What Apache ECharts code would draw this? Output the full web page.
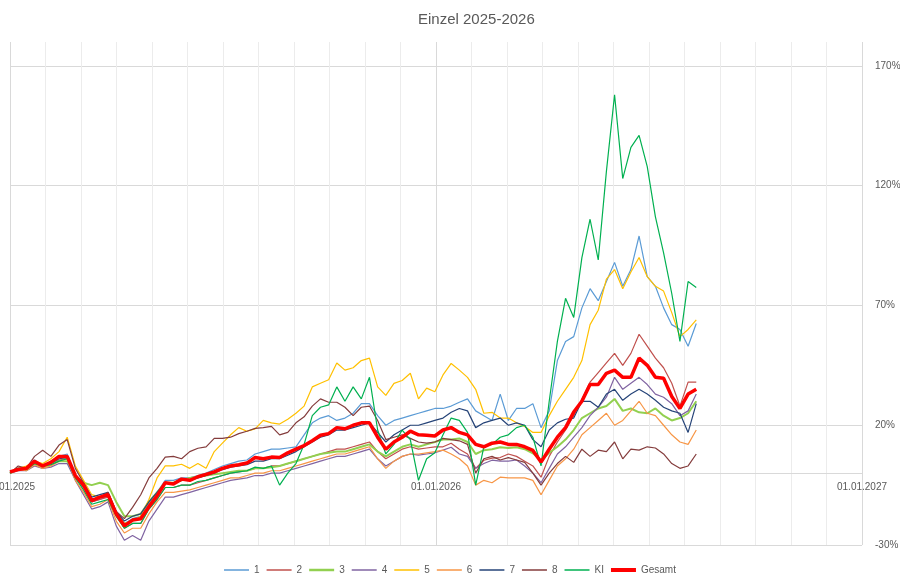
<!DOCTYPE html>
<html><head><meta charset="utf-8">
<script src="https://cdn.jsdelivr.net/npm/echarts@6/dist/echarts.min.js"></script>
<style>html,body{margin:0;padding:0;background:#fff}#c{width:900px;height:581px}</style>
</head><body><div id="c"></div>
<script>
const titleText = 'Einzel 2025-2026';
const seriesNames = ['1','2','3','4','5','6','7','8','KI','Gesamt'];
const seriesColors = ['#5B9BD5','#C0504D','#92D050','#8064A2','#FFC000','#F79646','#264478','#843C3C','#00B050','#FF0000'];
const yTicks = [-30, 20, 70, 120, 170];

const s1 = [0.5,2,2,5.5,3,5,7,8,-1,-5,
 -12,-11,-9.5,-16,-21,-19,-18,-13,-8,-3,
 -3,-2,-2,-1,0,1.5,3,4,5,5.5,
 8,9,10,10,10.5,11,16,21,23,24,
 22,23,25,29,29,24,20,22,23,24,
 25,26,27,27,28,29.6,31,26,24,22,
 33,22,27,27,29,19,26,47,55,57,
 69,77,72,80,88,78,85,99,82,78,
 69,62,60,53,62.5];
const s2 = [0,1.5,1.5,4,2.5,3.5,5.5,6,-2,-6,
 -12,-11,-10,-18,-23,-21,-21,-15,-11,-6,
 -6,-5,-5,-4,-3,-2,-1,0,0.5,1,
 2,2,3,3,4,5,6,7,8,9,
 10,10,11,12,13,9,6,8,10,11,
 10,10.5,11,11,12.5,10,8,2,5.4,6.3,
 6.5,8,7,5,3,-1.7,7,13,18,24,
 31,38,42,46,50,45,50,58,53,48,
 44,37.5,28,38,38];
const s3 = [0,1.5,1.5,4,2.5,3.5,5,5,-2,-4,
 -5,-4,-5,-12,-18,-18,-17,-12,-8,-4,
 -4,-3,-2,-1.5,-1,-0.5,0,0.5,1,1,
 2,2,2.5,3,4,5,6,7,8,8.5,
 9,9,10,11,12,9,7,9,11,12,
 11,12,13,14,14,14.5,13,8,9.6,10,
 10.8,10.5,10.8,10,8.3,5.4,8.5,11,14,18,
 23,25,27,28,31,26,27,25.4,25,27,
 24,22,23,25,30];
const s4 = [0,1,1,3,2,2.5,4,4,-3,-9,
 -15,-14,-12,-22,-28,-26,-28,-20,-15,-10,
 -10,-9,-8,-7,-6,-5,-4,-3,-2.5,-2,
 -1,-1,0,0,1,2,3,4,5,6,
 7,7,8,9,10,6,3,5,7,8,
 7.5,8,8.5,9.6,10.8,8,7,2,4,5.4,
 5,5,5.5,3,0,-4,2,8,11,15,
 19,24,27.5,31.7,40,35,37.5,40,37,33,
 31.7,29,24,26,33];
const s5 = [0,2,3,5,4,6,9,15,3,-3,
 -9,-10,-9,-17,-21,-20,-18,-11,-2,3,
 3,3.7,2,4,2,9,12.5,16,19,17.5,
 18.5,22,21,20.5,22.5,25,28,36,37.5,39,
 46,43,44,47,48,36,32.5,37.5,38.7,41.7,
 31,35.5,34,41,45.8,43,40,35,25,25.4,
 23,23,21,19.5,17,17,24,30,35,40,
 47,62,68,81,85,77,84,90,82,78,
 76,67,57,60,64];
const s6 = [0,1.5,1,3.5,2,3,5,6,-3,-8,
 -14,-13,-11,-20,-25,-23,-23,-17,-12,-8,
 -8,-7.5,-7,-6,-5,-4,-3,-2,-2,-1,
 0,0,1,1,2,3,4,5,6,7,
 8,8,9,10,11,6,2,5,7,8,
 8,8.5,9,9.6,8,6,3,-5,-3,-4,
 -1.7,-2,-2,-2,-3,-9,-3,3,6,10,
 16,19,22,25,20,22,26,30,25,24,
 20,16,13,12,18];
const s7 = [0.5,2,2,4.5,3,4,6,6.5,-1,-4,
 -10,-9,-8,-16,-20,-18,-17,-12,-8,-4,
 -4,-3,-3,-2,-1,0,1.5,2.5,3,3.5,
 5,5,6,6,7.5,9,11,13,15,16,
 18,18,19,20,21,17,13,16,18,20,
 20,21,22,23,25.4,27,26,19,21,22,
 23,20,21,20,14,11,18,21,22.5,23,
 30,30,27.5,33,35,30.4,33,35,33,30.4,
 27.5,26,25,17,29];
const s8 = [0,3,2,7,9.6,7,11.7,14,2,-4,
 -11,-10,-8,-16,-19,-14.3,-9,-2,2,6.7,
 7,6,9,10.4,11,14.5,14.5,15,16.5,17.5,
 18.7,19,19.5,16,17,21,23.5,28,31,29.6,
 29.6,27.5,24,27.5,28,22,14,15,16,14.5,
 13,12.5,13,14.5,14,13.5,12,0,6,7,
 5.5,6.5,5.5,4.5,0,-5,0,4,7,4.5,
 10,7,9.6,9,13,6,10,9.6,11,10.5,
 8,4,2,3,8];
const sKI = [0,2,1.5,4,3,3.5,5,6,-2,-7,
 -13,-12,-11,-18,-23,-21,-21,-15,-11,-6,
 -6,-5,-5,-3.5,-3,-2,-1,0,0.5,1,
 2.5,2,3,-5,0,4,12,24,27.5,28.5,
 36,30,36,31,40,18,8,12,18,14,
 -3,6,8.5,16,23,22,17,-5,11,12,
 15,16,19,20,15,3,30,55,73,65,
 90,106,89,126,158,123,136,141,128,107,
 92,75,55,80,77.5];
const sGesamt = [0.5,1.5,2,5,3,4.5,7,7,-1,-5,
 -11.5,-10,-9,-17,-22,-19.6,-19,-14,-9.5,-4,
 -4.5,-2.5,-3,-1.5,-0.5,0.5,2,3,3.5,4.2,
 6.5,6,6.7,6.5,8.5,10,11.5,13.5,15.8,16.5,
 19,18.5,20,21,21,15,10,13,15,17.5,
 16,15.8,15.5,18,19,17,16,12,11,12.5,
 13,12,12,11,9.5,4.6,10,15,19,25.5,
 30,37,37,41.7,43,40,40,48,45,40,
 39.6,32,27,33,35];

const allSeries = [s1,s2,s3,s4,s5,s6,s7,s8,sKI,sGesamt];
const DAY = 86400000;
const t0 = Date.UTC(2025,0,1);
const tEnd = Date.UTC(2027,0,1);
const dates = s1.map((_, i) => t0 + i * 7 * DAY);
const Y_MIN = -30, Y_MAX = 180;

function fmtDate(v){
  const d = new Date(v);
  const p = n => (n<10?'0':'')+n;
  return p(d.getUTCDate())+'.'+p(d.getUTCMonth()+1)+'.'+d.getUTCFullYear();
}

const GRID = {left:10, right:38, top:42, bottom:36};
const plotH = 581 - GRID.top - GRID.bottom;
const zeroOffset = -plotH * (0 - Y_MIN) / (Y_MAX - Y_MIN);

const FONT = 'Liberation Sans';
const chart = echarts.init(document.getElementById('c'));
chart.setOption({
  animation:false,
  backgroundColor:'#fff',
  textStyle:{fontFamily:FONT},
  title:{text:titleText, left:413, top:7, textStyle:{color:'#595959', fontSize:15, fontWeight:'normal', fontFamily:FONT}},
  grid:Object.assign({containLabel:false, outerBoundsMode:'none'}, GRID),
  legend:{bottom:1, left:'center', itemWidth:25, itemHeight:10, itemGap:7,
    textStyle:{color:'#595959', fontSize:10, fontFamily:FONT},
    data:seriesNames.map(n => ({name:n, icon: n==='Gesamt' ? 'path://M0,0H100V16H0Z' : (n==='3' ? 'path://M0,0H100V10H0Z' : 'path://M0,0H100V6H0Z')}))},
  xAxis:{type:'value', min:t0, max:tEnd, interval:365*DAY, position:'bottom', offset:zeroOffset,
    axisLine:{onZero:false, lineStyle:{color:'#d9d9d9', width:1}},
    axisTick:{show:false},
    axisLabel:{formatter:fmtDate, color:'#595959', fontSize:10, margin:9, showMinLabel:true, showMaxLabel:true},
    splitLine:{show:true, lineStyle:{color:'#d9d9d9', width:1}},
    minorTick:{show:false, splitNumber:12},
    minorSplitLine:{show:true, lineStyle:{color:'#ececec', width:1}}
  },
  yAxis:{type:'value', position:'right', min:Y_MIN, max:Y_MAX, interval:50,
    axisLine:{show:false}, axisTick:{show:false},
    axisLabel:{formatter:v => yTicks.indexOf(v) >= 0 ? v+'%' : '', color:'#595959', fontSize:10, margin:13, showMaxLabel:false},
    splitLine:{show:true, showMaxLine:false, lineStyle:{color:'#d9d9d9', width:1}}
  },
  series: seriesNames.map((name, idx) => ({
    name, type:'line', symbol:'none', showSymbol:false,
    color: seriesColors[idx],
    lineStyle:{width: name==='Gesamt' ? 3.5 : (name==='3' ? 2 : 1.2), color: seriesColors[idx]},
    emphasis:{disabled:true},
    z: name==='Gesamt' ? 5 : 2,
    data: dates.map((d, i) => [d, allSeries[idx][i]])
  }))
});
</script></body></html>
